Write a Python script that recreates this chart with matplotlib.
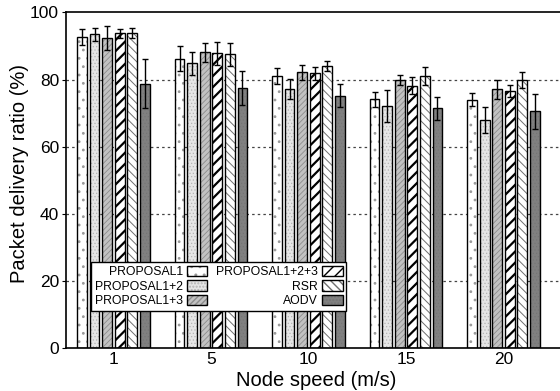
import numpy as np
import matplotlib
matplotlib.use('Agg')
from matplotlib import pyplot as plt
from matplotlib.legend_handler import HandlerTuple

speeds = ['1', '5', '10', '15', '20']
series = ['PROPOSAL1', 'PROPOSAL1+2', 'PROPOSAL1+3', 'PROPOSAL1+2+3', 'RSR', 'AODV']

p1 = [92.6, 86.2, 81.0, 74.1, 74.0]
p12 = [93.5, 84.8, 77.2, 72.2, 67.9]
p13 = [92.4, 88.1, 82.2, 79.8, 77.1]
p123 = [93.7, 87.8, 81.9, 78.1, 76.6]
rsr = [93.9, 87.5, 84.1, 81.0, 79.8]
aodv = [78.8, 77.5, 75.2, 71.4, 70.5]

p1_err = [2.4, 3.8, 2.3, 2.3, 2.0]
p12_err = [1.9, 3.4, 3.0, 4.7, 3.8]
p13_err = [3.6, 2.9, 2.2, 1.4, 2.8]
p123_err = [1.4, 3.5, 1.9, 2.5, 1.8]
rsr_err = [1.5, 3.5, 1.5, 2.6, 2.4]
aodv_err = [7.3, 5.0, 3.5, 3.5, 5.1]

values = [p1, p12, p13, p123, rsr, aodv]
errors = [p1_err, p12_err, p13_err, p123_err, rsr_err, aodv_err]

# (facecolor, hatch, hatch colour, hatch linewidth)
styles = [
    ('white', '..', '#9a9a9a', 0.8),
    ('#e6e6e6', '.....', '#b4b4b4', 0.5),
    ('#c2c2c2', '//////', '#8c8c8c', 0.6),
    ('white', '///', 'black', 1.6),
    ('white', '\\\\\\\\', '#707070', 0.7),
    ('#808080', '.....', '#747474', 0.4),
]

plt.rcParams['font.family'] = 'Liberation Sans'

fig = plt.figure(figsize=(5.6, 3.91), dpi=100)
ax = fig.add_axes([66 / 560, 1 - 348.3 / 391, (562 - 66) / 560, (348.3 - 12.3) / 391])

x = np.arange(len(speeds))
pitch = 0.129
width = 0.1
handles = []
for i, (vals, errs, (fc, hatch, hc, hlw)) in enumerate(zip(values, errors, styles)):
    pos = x + (i - 2.5) * pitch
    with plt.rc_context({'hatch.linewidth': hlw, 'hatch.color': hc}):
        ax.bar(pos, vals, width, color=fc, hatch=hatch, edgecolor=hc, linewidth=0, zorder=2)
        fill = plt.Rectangle((0, 0), 1, 1, facecolor=fc, hatch=hatch, edgecolor=hc, linewidth=0)
    ax.bar(pos, vals, width, fill=False, edgecolor='black', linewidth=1.0, zorder=3)
    ax.errorbar(pos, vals, yerr=errs, fmt='none', ecolor='black', elinewidth=1.0,
                capsize=2.5, capthick=1.0, zorder=4)
    outline = plt.Rectangle((0, 0), 1, 1, fill=False, edgecolor='black', linewidth=1.0)
    handles.append((fill, outline))

ax.set_xlim(-0.487, 4.6)
ax.set_ylim(0, 100)
ax.set_xticks(x)
ax.set_xticklabels(speeds, fontsize=12.5)
ax.set_yticks([0, 20, 40, 60, 80, 100])
ax.tick_params(axis='y', labelsize=12.5, direction='out', length=3, pad=2)
ax.tick_params(axis='x', length=0, pad=3)
for yv in [20, 40, 60, 80]:
    ax.axhline(yv, color='#444444', linestyle=(0, (2, 2.5)), linewidth=0.9, zorder=1)
for s in ax.spines.values():
    s.set_linewidth(1.2)

ax.set_xlabel('Node speed (m/s)', fontsize=14.5)
ax.xaxis.set_label_coords((316 - 66) / (562 - 66), -0.068)
ax.set_ylabel('Packet delivery ratio (%)', fontsize=14.5)
ax.yaxis.set_label_coords((29 - 66) / 496, 0.52)

leg = ax.legend(handles, series, ncol=2, markerfirst=False, fontsize=8.8,
                handler_map={tuple: HandlerTuple(ndivide=1, pad=0)},
                loc='upper left', bbox_to_anchor=((91 - 66) / 496, (348.3 - 262) / 336),
                frameon=True, fancybox=False, edgecolor='black', framealpha=1,
                handlelength=1.65, handleheight=0.9, labelspacing=0.2,
                columnspacing=0.75, borderpad=0.3, handletextpad=0.35,
                borderaxespad=0)
leg.get_frame().set_linewidth(1.0)
leg.set_zorder(10)

plt.savefig('out.png', dpi=100)
